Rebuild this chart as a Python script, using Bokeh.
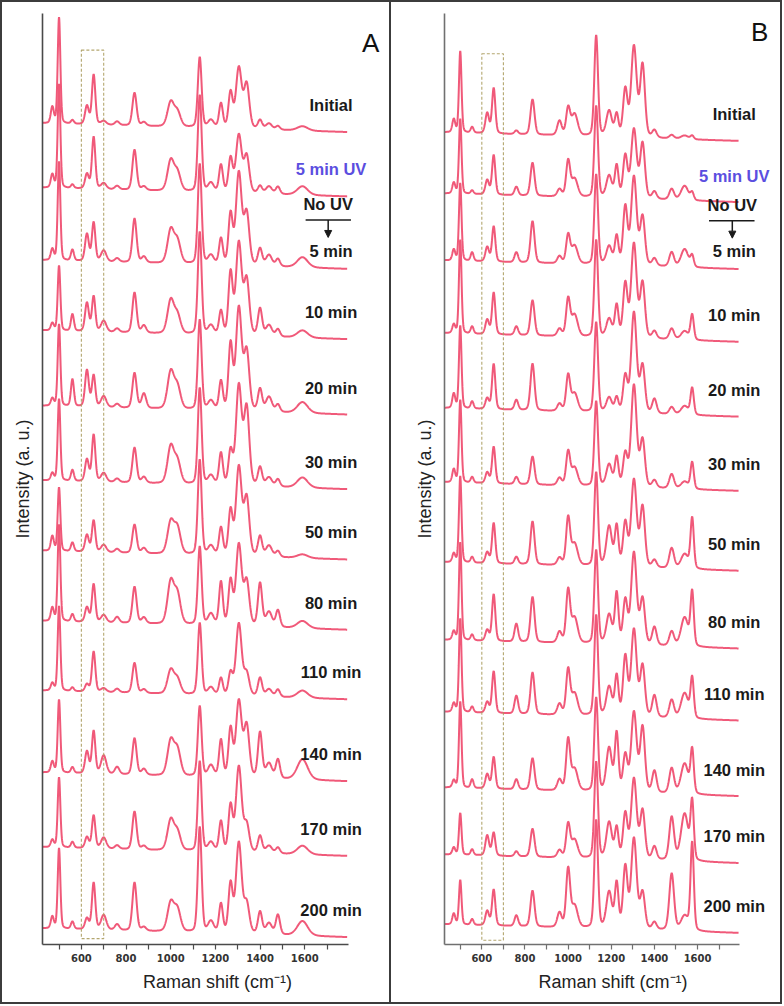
import numpy as np
from bokeh.plotting import figure
from bokeh.models import (Range1d, FixedTicker, BoxAnnotation, Label, LabelSet,
                          Arrow, NormalHead, ColumnDataSource)
from bokeh.core.properties import value
from bokeh.layouts import row
from bokeh.embed import file_html
from bokeh.resources import INLINE

# ---------------- data ----------------
labels = ["Initial", "5 min UV", "5 min", "10 min", "20 min", "30 min", "50 min",
          "80 min", "110 min", "140 min", "170 min", "200 min"]

offsets_A = [11.0, 10.12, 9.13, 8.17, 7.14, 6.12, 5.16, 4.2, 3.25, 2.13, 1.11, 0.0]
offsets_B = [11.0, 10.15, 9.22, 8.21, 7.17, 6.14, 5.03, 3.95, 2.95, 1.90, 0.97, 0.0]

centers_A = [470, 500, 560, 625, 655, 700, 760, 838, 880, 1000, 1030, 1130, 1180,
             1225, 1268, 1305, 1340, 1400, 1440, 1480, 1590]
widths_A = [8, 7, 8, 10, 9, 14, 12, 11, 12, 17, 17, 10, 15, 10, 11, 15, 14, 11, 16, 11, 28]
heights_A = [
    [0.22, 1.45, 0.05, 0.25, 0.68, 0.05, 0.05, 0.45, 0.05, 0.33, 0.20, 0.96, 0.10, 0.33, 0.48, 0.82, 0.60, 0.12, 0.08, 0.05, 0.06],
    [0.18, 1.42, 0.05, 0.20, 0.71, 0.08, 0.05, 0.55, 0.05, 0.41, 0.25, 1.32, 0.12, 0.37, 0.46, 0.78, 0.50, 0.10, 0.10, 0.10, 0.12],
    [0.15, 1.35, 0.15, 0.37, 0.53, 0.15, 0.05, 0.60, 0.08, 0.45, 0.30, 1.37, 0.12, 0.35, 0.68, 1.25, 0.70, 0.23, 0.15, 0.10, 0.14],
    [0.10, 0.89, 0.23, 0.39, 0.48, 0.15, 0.05, 0.55, 0.10, 0.45, 0.25, 1.40, 0.12, 0.32, 0.84, 1.25, 0.75, 0.37, 0.15, 0.10, 0.10],
    [0.10, 1.12, 0.37, 0.50, 0.43, 0.15, 0.05, 0.48, 0.20, 0.50, 0.30, 1.23, 0.12, 0.39, 0.89, 1.39, 0.80, 0.30, 0.20, 0.10, 0.15],
    [0.10, 1.12, 0.15, 0.30, 0.64, 0.12, 0.05, 0.48, 0.08, 0.50, 0.30, 1.32, 0.12, 0.43, 0.45, 1.35, 1.05, 0.25, 0.12, 0.10, 0.14],
    [0.20, 0.87, 0.12, 0.23, 0.43, 0.10, 0.05, 0.39, 0.07, 0.43, 0.35, 1.30, 0.12, 0.37, 0.60, 1.20, 0.78, 0.27, 0.15, 0.08, 0.05],
    [0.18, 1.32, 0.10, 0.20, 0.52, 0.10, 0.08, 0.50, 0.08, 0.57, 0.40, 1.07, 0.15, 0.59, 0.60, 1.10, 0.60, 0.59, 0.20, 0.23, 0.10],
    [0.10, 1.16, 0.05, 0.10, 0.55, 0.05, 0.05, 0.41, 0.05, 0.32, 0.20, 0.98, 0.10, 0.23, 0.30, 0.98, 0.30, 0.25, 0.10, 0.10, 0.10],
    [0.15, 1.00, 0.08, 0.30, 0.58, 0.25, 0.10, 0.50, 0.08, 0.47, 0.35, 0.96, 0.15, 0.50, 0.65, 1.03, 0.70, 0.62, 0.20, 0.26, 0.28],
    [0.10, 0.96, 0.08, 0.15, 0.45, 0.15, 0.05, 0.52, 0.05, 0.41, 0.25, 1.23, 0.12, 0.41, 0.62, 1.16, 0.37, 0.23, 0.10, 0.08, 0.12],
    [0.16, 1.10, 0.10, 0.15, 0.64, 0.20, 0.08, 0.66, 0.05, 0.39, 0.30, 1.44, 0.15, 0.39, 0.66, 1.23, 0.40, 0.30, 0.15, 0.27, 0.20],
]

centers_B = [470, 500, 555, 625, 655, 760, 835, 960, 1000, 1030, 1130, 1190, 1225,
             1265, 1305, 1345, 1400, 1480, 1540, 1575]
widths_B = [8, 7, 8, 10, 9, 10, 11, 12, 11, 17, 10, 15, 10, 12, 15, 13, 12, 13, 20, 9]
heights_B = [
    [0.18, 1.13, 0.08, 0.28, 0.63, 0.05, 0.49, 0.20, 0.37, 0.30, 1.40, 0.35, 0.30, 0.65, 1.25, 1.00, 0.10, 0.05, 0.05, 0.05],
    [0.15, 1.04, 0.05, 0.20, 0.55, 0.12, 0.46, 0.10, 0.49, 0.25, 1.27, 0.30, 0.44, 0.58, 0.95, 0.76, 0.10, 0.15, 0.20, 0.10],
    [0.15, 1.08, 0.12, 0.20, 0.49, 0.14, 0.58, 0.10, 0.39, 0.25, 1.25, 0.25, 0.39, 0.80, 1.22, 0.67, 0.10, 0.20, 0.25, 0.15],
    [0.12, 1.30, 0.10, 0.20, 0.58, 0.12, 0.49, 0.10, 0.51, 0.30, 1.35, 0.25, 0.44, 0.74, 1.30, 0.76, 0.10, 0.15, 0.12, 0.35],
    [0.20, 1.15, 0.10, 0.15, 0.63, 0.14, 0.65, 0.10, 0.49, 0.25, 1.25, 0.20, 0.20, 0.50, 1.39, 0.65, 0.20, 0.10, 0.12, 0.37],
    [0.18, 1.15, 0.08, 0.15, 0.51, 0.10, 0.39, 0.10, 0.46, 0.25, 1.18, 0.30, 0.40, 0.45, 1.41, 0.65, 0.10, 0.20, 0.10, 0.37],
    [0.12, 1.20, 0.08, 0.15, 0.56, 0.10, 0.60, 0.10, 0.65, 0.30, 1.30, 0.55, 0.55, 0.60, 1.20, 0.83, 0.10, 0.28, 0.20, 0.70],
    [0.12, 1.36, 0.08, 0.15, 0.65, 0.25, 0.63, 0.15, 0.72, 0.35, 1.30, 0.40, 0.70, 0.60, 1.27, 0.63, 0.25, 0.20, 0.40, 0.74],
    [0.12, 1.30, 0.08, 0.15, 0.58, 0.25, 0.58, 0.15, 0.62, 0.30, 1.40, 0.40, 0.55, 0.82, 1.20, 0.70, 0.30, 0.25, 0.35, 0.55],
    [0.10, 1.20, 0.12, 0.20, 0.44, 0.14, 0.44, 0.15, 0.70, 0.30, 1.30, 0.60, 0.80, 0.50, 1.10, 0.90, 0.30, 0.35, 0.42, 0.60],
    [0.10, 0.58, 0.08, 0.28, 0.32, 0.07, 0.39, 0.10, 0.46, 0.25, 1.34, 0.50, 0.42, 0.62, 1.11, 0.67, 0.18, 0.60, 0.65, 0.79],
    [0.15, 0.62, 0.08, 0.20, 0.50, 0.15, 0.50, 0.20, 0.80, 0.30, 1.50, 0.50, 0.62, 0.85, 1.25, 0.50, 0.10, 0.79, 0.20, 1.22],
]

x_ticks = [500, 600, 700, 800, 900, 1000, 1100, 1200, 1300, 1400, 1500, 1600, 1700]
x_tick_labels = ["", "600", "", "800", "", "1000", "", "1200", "", "1400", "", "1600", ""]

# ---------------- styling ----------------
LINE = "#ef5072"
FONT = "Liberation Sans"
LABEL_SIZE = "16.5px"
SHIFT = np.arange(428.0, 1791.0, 1.0)


def spectrum(centers, widths, heights):
    y = np.zeros_like(SHIFT)
    for c, w, h in zip(centers, widths, heights):
        u = (SHIFT - c) / w
        y += h * (0.75 * np.exp(-0.693 * u * u) + 0.25 / (1.0 + u * u))
    return y - 0.12 * (SHIFT - SHIFT[0]) / (SHIFT[-1] - SHIFT[0])


def panel(letter, offsets, centers, widths, heights, xr, bounds, yr, borders,
          label_x, letter_xy, box_yr, noUV, axis_color, css):
    p = figure(width=391, height=1004, output_backend="svg", toolbar_location=None,
               x_range=Range1d(*xr), y_range=Range1d(*yr),
               min_border_left=borders[0], min_border_right=borders[1],
               min_border_top=borders[2], min_border_bottom=borders[3])
    p.styles = css
    p.outline_line_color = None
    p.grid.visible = False
    p.background_fill_color = "white"

    xs = [SHIFT for _ in offsets]
    ys = [off + spectrum(centers, widths, h) for off, h in zip(offsets, heights)]
    p.multi_line(xs=xs, ys=ys, line_color=LINE, line_width=2.0, line_alpha=0.95)

    p.add_layout(BoxAnnotation(left=600, right=700, bottom=box_yr[0], top=box_yr[1],
                               fill_color=None, line_color="#ab9c5e", line_alpha=0.9,
                               line_width=1.1, line_dash="3 2"))

    # axes
    p.xaxis.bounds = bounds
    p.xaxis.ticker = FixedTicker(ticks=x_ticks)
    p.xaxis.major_label_overrides = {t: s for t, s in zip(x_ticks, x_tick_labels)}
    p.xaxis.minor_tick_line_color = None
    p.xaxis.major_tick_in = 0
    p.xaxis.major_tick_out = 5
    p.xaxis.major_label_standoff = 4
    p.xaxis.major_label_text_font = "DejaVu Sans"
    p.xaxis.major_label_text_font_style = "bold"
    p.xaxis.major_label_text_font_size = "10px"
    p.xaxis.major_label_text_color = "#333333"
    p.xaxis.axis_label = "Raman shift (cm\u207b\u00b9)"
    p.xaxis.axis_label_text_font = FONT
    p.xaxis.axis_label_text_font_style = "normal"
    p.xaxis.axis_label_text_font_size = "18px"
    p.xaxis.axis_label_text_color = "#222222"
    p.xaxis.axis_label_standoff = 7
    p.yaxis.ticker = FixedTicker(ticks=[])
    p.yaxis.minor_tick_line_color = None
    p.yaxis.axis_label = "Intensity (a. u.)"
    p.yaxis.axis_label_text_font = FONT
    p.yaxis.axis_label_text_font_style = "normal"
    p.yaxis.axis_label_text_font_size = "18px"
    p.yaxis.axis_label_text_color = "#222222"
    p.yaxis.axis_label_standoff = 10
    for ax in (p.xaxis, p.yaxis):
        ax.axis_line_color = axis_color
        ax.axis_line_width = 1.6
        ax.major_tick_line_color = axis_color
        ax.major_tick_line_width = 1.2

    # labels
    lab_y = []
    for i, off in enumerate(offsets):
        lab_y.append(off + (0.13 if labels[i] == "5 min" else 0.25))
    colors = ["#5b4ee0" if s == "5 min UV" else "#1a1a1a" for s in labels]
    src = ColumnDataSource(dict(x=[label_x] * len(labels), y=lab_y, text=labels, c=colors))
    p.add_layout(LabelSet(x="x", y="y", text="text", source=src, text_color="c",
                          text_font=value(FONT), text_font_style="bold",
                          text_font_size=LABEL_SIZE, text_align="center",
                          text_baseline="middle"))

    # "No UV" marker
    nx, nl, nr = noUV
    base5 = offsets[2]
    p.add_layout(Label(x=nx, y=base5 + 0.77, text="No UV", text_font=FONT,
                       text_font_style="bold", text_font_size=LABEL_SIZE,
                       text_align="center", text_baseline="middle", text_color="#1a1a1a"))
    p.add_layout(Arrow(end=None, x_start=nl, y_start=base5 + 0.55, x_end=nr,
                       y_end=base5 + 0.55, line_color="#1a1a1a", line_width=1.5))
    p.add_layout(Arrow(end=NormalHead(size=7, fill_color="#1a1a1a", line_color="#1a1a1a"),
                       x_start=nx, y_start=base5 + 0.55, x_end=nx, y_end=base5 + 0.31,
                       line_color="#1a1a1a", line_width=1.5))

    p.add_layout(Label(x=letter_xy[0], y=letter_xy[1], text=letter, text_font=FONT,
                       text_font_size="26px", text_align="center",
                       text_baseline="middle", text_color="#111111"))
    return p


pA = panel("A", offsets_A, centers_A, widths_A, heights_A,
           xr=(426, 1993), bounds=(426, 1798), yr=(-0.22, 12.5), borders=(40, 1, 11, 58),
           label_x=1718, letter_xy=(1895, 12.1), box_yr=(-0.14, 12.0),
           noUV=(1705, 1604, 1807), axis_color="#4a4a4a",
           css={"border": "2px solid #3c3c3c", "box-sizing": "border-box"})
pB = panel("B", offsets_B, centers_B, widths_B, heights_B,
           xr=(427, 1989), bounds=(427, 1793), yr=(-0.28, 12.65), borders=(53, 1, 6, 62),
           label_x=1770, letter_xy=(1888, 12.4), box_yr=(-0.22, 12.09),
           noUV=(1761, 1653, 1864), axis_color="#707070",
           css={"border": "2px solid #3c3c3c", "border-left": "none",
                "box-sizing": "border-box"})

layout = row(pA, pB)
open("out.html", "w").write(file_html(layout, INLINE))
